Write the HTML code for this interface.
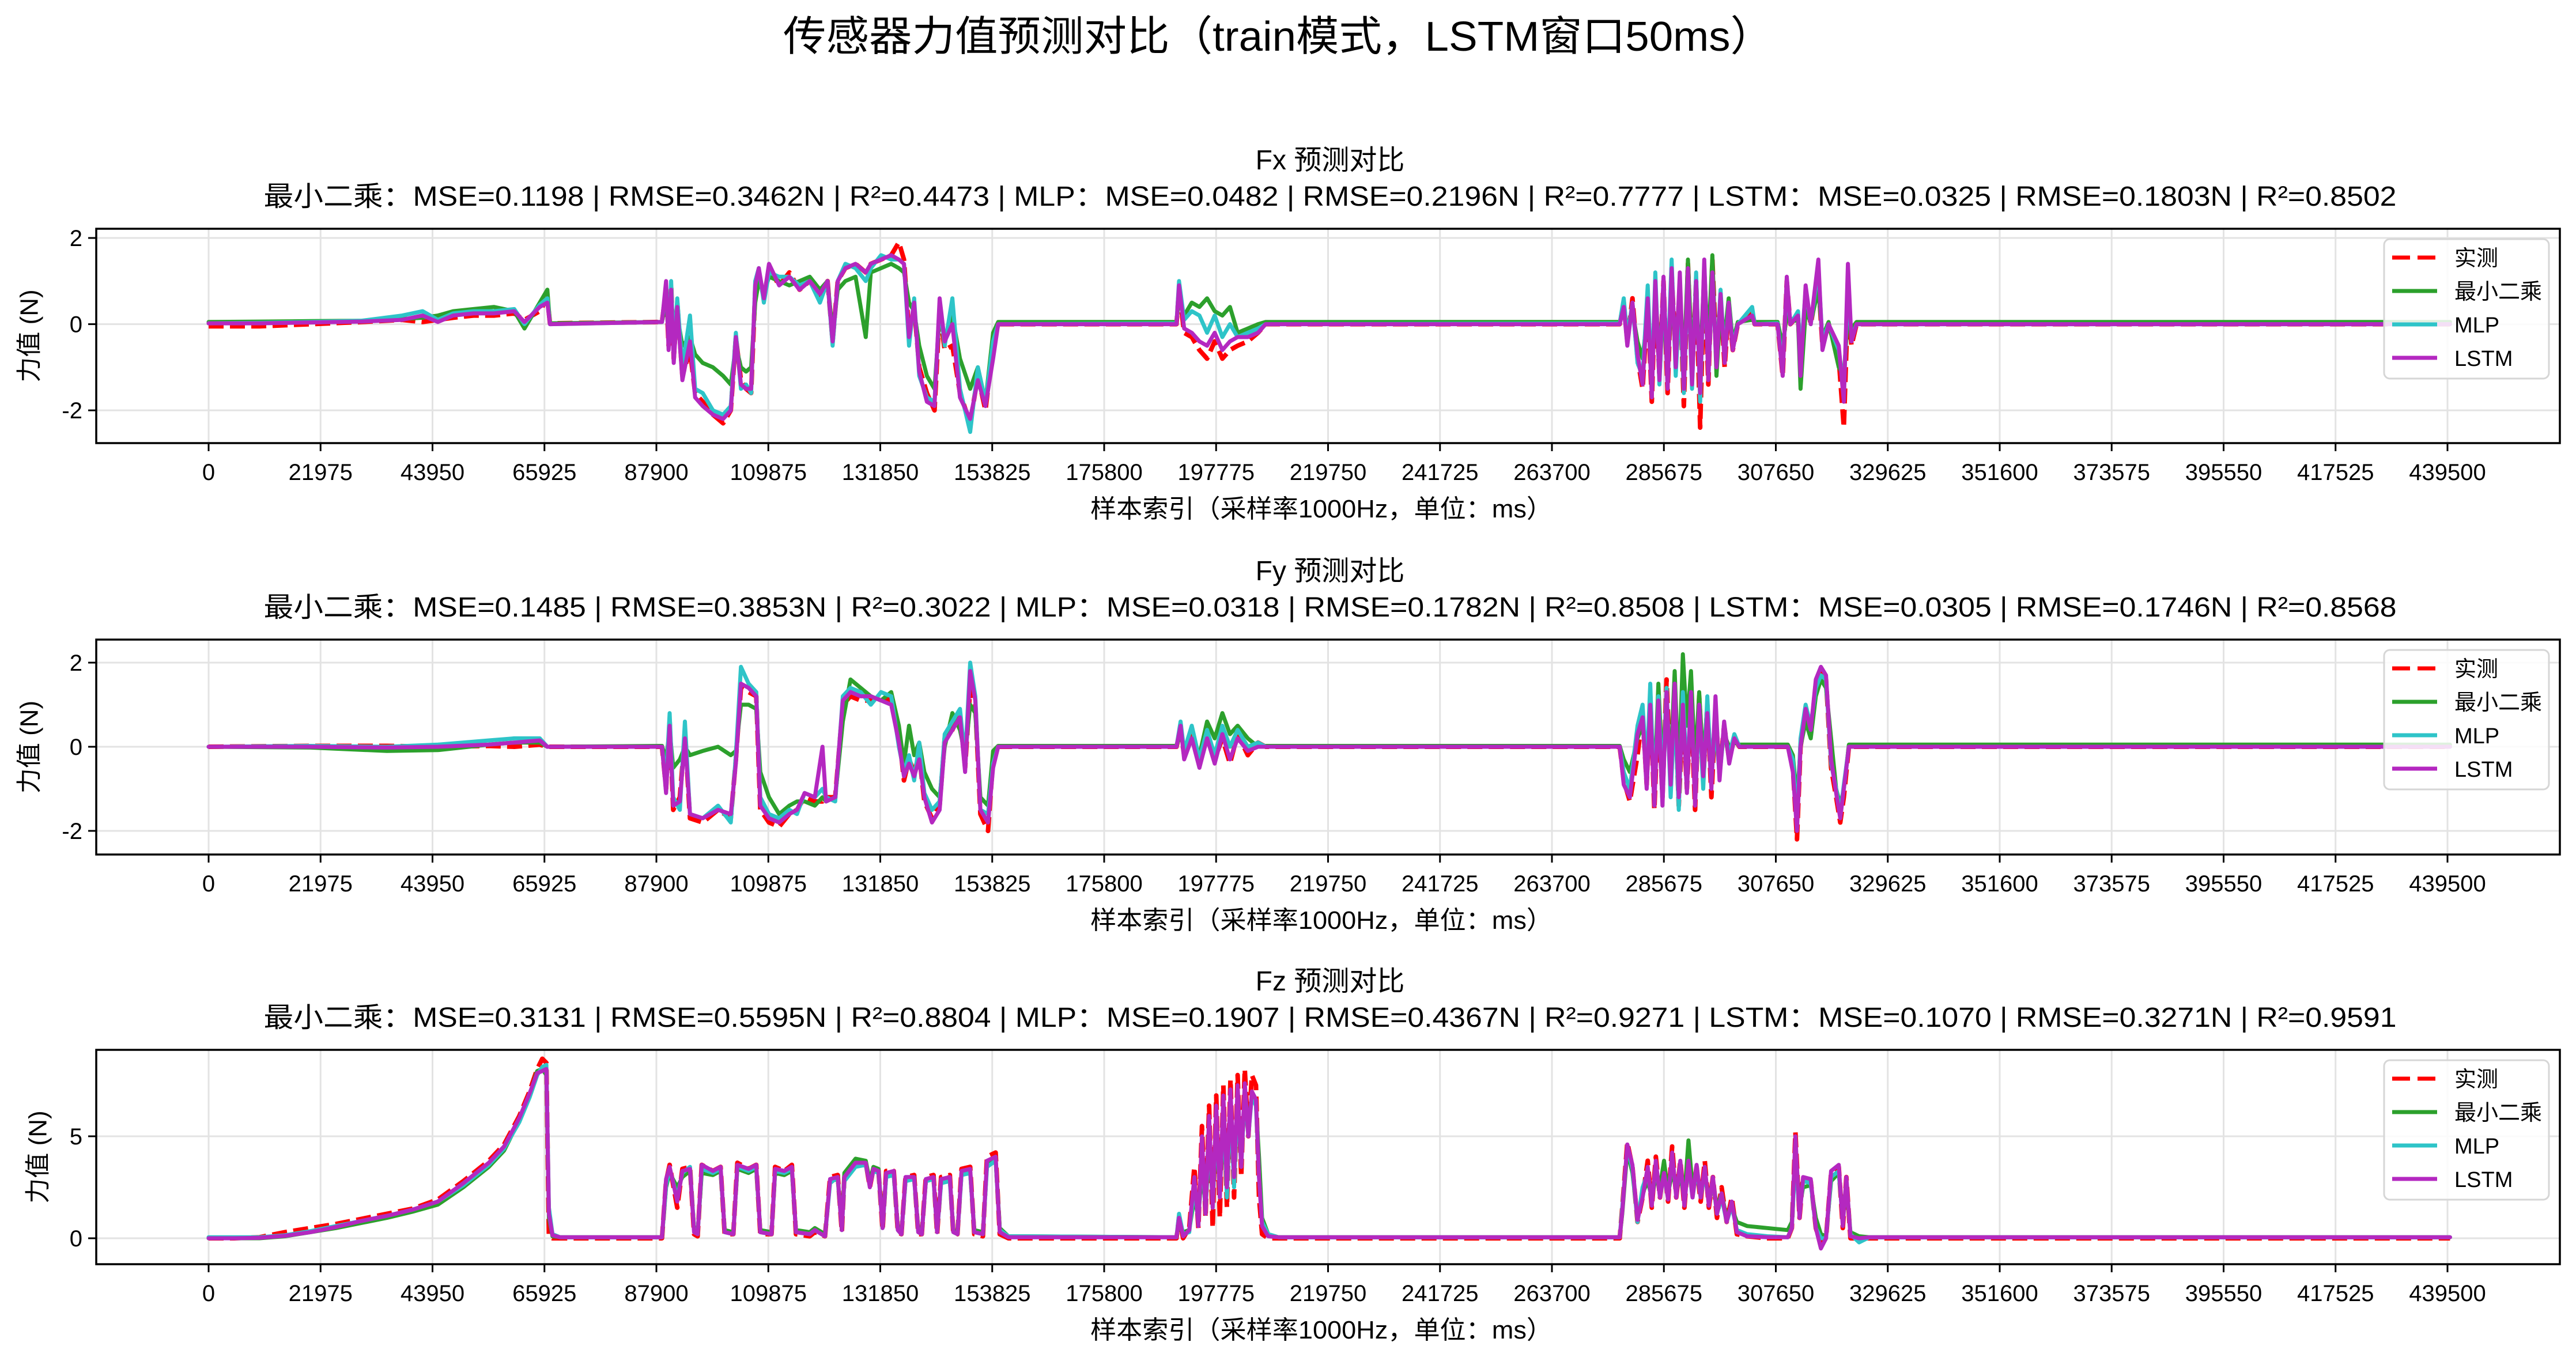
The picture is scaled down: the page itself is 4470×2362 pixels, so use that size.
<!DOCTYPE html>
<html><head><meta charset="utf-8">
<style>
html,body{margin:0;padding:0;background:#fff;}
svg{display:block;}
text{font-family:"Liberation Sans","Noto Sans CJK SC",sans-serif;fill:#000;}
</style></head>
<body>
<svg id="chart" xmlns="http://www.w3.org/2000/svg" width="4470" height="2362" viewBox="0 0 4470 2362">
<rect x="0" y="0" width="4470" height="2362" fill="#fff"/>
<text x="2218" y="88" font-size="72" text-anchor="middle" textLength="1718" lengthAdjust="spacingAndGlyphs">传感器力值预测对比（train模式，LSTM窗口50ms）</text>
</svg>
<script>
// ---------- x tick labels ----------
const xTickValues = [0,21975,43950,65925,87900,109875,131850,153825,175800,197775,219750,241725,263700,285675,307650,329625,351600,373575,395550,417525,439500];
const seriesNames = ["实测","最小二乘","MLP","LSTM"];
const plotNames = ["Fx","Fy","Fz"];
const titleLines = [
 "最小二乘：MSE=0.1198 | RMSE=0.3462N | R²=0.4473 | MLP：MSE=0.0482 | RMSE=0.2196N | R²=0.7777 | LSTM：MSE=0.0325 | RMSE=0.1803N | R²=0.8502",
 "最小二乘：MSE=0.1485 | RMSE=0.3853N | R²=0.3022 | MLP：MSE=0.0318 | RMSE=0.1782N | R²=0.8508 | LSTM：MSE=0.0305 | RMSE=0.1746N | R²=0.8568",
 "最小二乘：MSE=0.3131 | RMSE=0.5595N | R²=0.8804 | MLP：MSE=0.1907 | RMSE=0.4367N | R²=0.9271 | LSTM：MSE=0.1070 | RMSE=0.3271N | R²=0.9591"
];
const yTicksFx = [-2,0,2];
const yTicksFy = [-2,0,2];
const yTicksFz = [0,5];

// ---------- Fx data (sample index in thousands) ----------
const fxX = [0,10,20,30,38,42,45,48,52,56,60,62,65,66.5,67,89,
 89.8,90.3,90.8,91.3,92,93,94.5,95.5,97,99,101,102.5,103.5,104.5,105.5,106.5,107.3,108,109,110,112,114,116,118,120,121.5,122.5,123.5,125,127,129,130,132,134,135.5,136.5,137.5,138.5,139.5,141,142.5,143.5,144.5,146,147.5,149.5,151,152.5,154,155,
 190,190.5,191.5,193,194.5,196,197.5,199,200.5,202,204,206,207.5,
 277,277.8,278.5,279.5,280.5,281.5,282.5,283.3,284,284.8,285.6,286.4,287.2,288,288.8,289.6,290.4,291.2,292,292.8,293.6,294.4,295.2,296,296.8,297.6,298.4,299.2,300.2,
 303,303.5,308,309,309.8,310.5,312,312.5,313.5,314.5,316,316.8,318,320,321,321.8,322.5,323.5,440];
const fxActual = [-0.05,-0.05,0,0.05,0.1,0.05,0.1,0.15,0.2,0.2,0.25,0.1,0.3,0.6,0.02,0.05,
 0.8,-0.5,0.9,-0.8,0.5,-1.2,-0.6,-1.6,-1.8,-2.1,-2.3,-2.0,-0.3,-1.3,-1.5,-1.6,0.8,1.2,0.6,1.3,0.9,1.2,0.8,1.0,0.6,1.0,-0.4,1.0,1.3,1.4,1.2,1.4,1.5,1.6,1.9,1.5,-0.2,0.4,-1.0,-1.6,-2.0,0.3,-0.6,-0.5,-1.6,-2.3,-1.2,-2.0,-0.5,0,
 0,0.8,-0.2,-0.3,-0.6,-0.8,-0.4,-0.8,-0.6,-0.5,-0.4,-0.2,0,
 0,0.5,-0.4,0.6,-0.8,-1.5,0.5,-1.8,0.8,-1.2,1.0,-1.6,1.2,-0.8,0.9,-1.9,1.4,-1.2,1.0,-2.4,1.2,-1.4,1.5,-0.8,0.6,-1.0,0.4,-0.6,0,
 0.3,0,0,-1.2,1.0,0,0.2,-1.0,0.6,0,1.0,-0.5,0,-0.8,-2.4,0.5,-0.5,0,0];
const fxLS = [0.05,0.06,0.07,0.08,0.12,0.15,0.2,0.3,0.35,0.4,0.3,-0.1,0.5,0.8,0.02,0.05,
 0.6,-0.3,0.5,-0.4,0.2,-0.5,-0.3,-0.7,-0.9,-1.0,-1.2,-1.4,-0.5,-1.0,-1.1,-1.0,0.5,1.0,0.7,1.1,1.0,0.9,1.0,1.1,0.8,1.0,-0.2,0.8,1.0,1.1,-0.3,1.2,1.3,1.4,1.3,1.2,0.5,0.3,-0.5,-1.2,-1.5,0.2,-0.3,0.2,-0.8,-1.5,-1.0,-1.8,-0.2,0.05,
 0.05,0.6,0.2,0.5,0.4,0.6,0.3,0.2,0.4,-0.2,-0.1,0,0.05,
 0.05,0.4,-0.2,0.3,-0.4,-0.8,0.3,-1.0,0.6,-0.6,0.4,-1.2,0.8,-0.5,0.5,-1.0,1.5,-0.8,0.6,-0.9,1.2,-0.5,1.6,-1.2,0.4,-0.3,0.6,-0.4,0.05,
 0.1,0.05,0.05,-0.5,0.2,0.05,0.1,-1.5,0.3,0.05,0.8,-0.3,0.05,-1.0,-1.2,0.2,-0.1,0.05,0.05];
const fxMLP = [0.02,0.03,0.05,0.08,0.2,0.3,0.1,0.25,0.3,0.3,0.35,0,0.45,0.6,0,0.05,
 0.9,-0.4,1.0,-0.7,0.6,-1.0,0.2,-1.5,-1.6,-2.0,-2.1,-1.9,-0.2,-1.5,-1.4,-1.6,1.0,1.3,0.5,1.2,1.1,1.1,0.9,1.0,0.5,1.0,-0.5,1.0,1.4,1.3,1.0,1.3,1.6,1.5,1.5,1.4,-0.5,0.6,-1.2,-1.7,-1.8,0.5,-0.5,0.6,-1.5,-2.5,-1.0,-1.8,-0.4,0,
 0.02,1.0,0.1,0.3,0.2,-0.2,0.2,-0.3,0,-0.3,-0.2,-0.1,0,
 0.02,0.6,-0.3,0.5,-0.9,-1.2,0.9,-1.5,1.2,-1.4,0.8,-1.0,1.5,-1.2,0.7,-1.6,1.2,-1.5,1.2,-1.8,1.4,-1.2,1.0,-0.9,0.8,-0.8,0.5,-0.5,0,
 0.4,0,0.02,-1.0,0.9,0,0.3,-0.8,0.8,0,1.3,-0.4,0,-0.6,-1.5,0.8,-0.3,0,0];
const fxLSTM = [0.02,0.02,0.04,0.06,0.1,0.2,0.05,0.2,0.25,0.25,0.3,0.05,0.4,0.5,0,0.05,
 1.0,-0.6,0.8,-0.9,0.4,-1.3,-0.4,-1.7,-1.9,-2.1,-2.2,-2.0,-0.3,-1.4,-1.5,-1.5,0.9,1.3,0.6,1.4,0.9,1.1,0.8,1.0,0.7,1.0,-0.4,1.0,1.3,1.4,1.2,1.4,1.5,1.6,1.5,1.4,-0.3,0.5,-1.1,-1.8,-1.9,0.6,-0.4,0,-1.7,-2.2,-1.3,-1.9,-0.8,0,
 0,0.9,-0.1,-0.2,-0.4,-0.5,-0.2,-0.6,-0.4,-0.3,-0.3,-0.2,0,
 0,0.4,-0.5,0.5,-0.7,-1.4,0.6,-1.7,1.0,-1.3,1.1,-1.5,1.3,-1.0,1.2,-1.5,1.3,-1.4,1.0,-1.6,1.5,-1.3,1.2,-1.0,0.7,-0.9,0.5,-0.6,0,
 0.2,0,0,-1.2,1.1,0,0.2,-1.2,0.9,0,1.5,-0.6,0,-0.5,-1.8,1.4,-0.4,0,0];

// ---------- Fy data ----------
const fyX = [0,20,35,45,55,60,65,66.5,89,
 89.8,90.5,91.2,92.5,93.5,94.5,97,100,102.5,103.5,104.5,106,107.5,108.3,110,112,114,115.5,117,119,120.5,121.2,123,124.5,126,128,130,132,134,135.5,136.5,137.5,138.5,139.5,140.5,142,143.5,144.5,146,147.5,148.5,149.5,150.5,151.5,153,154,155,
 190,190.8,191.5,193,194.5,196,197.5,199,200.5,202,204,206,207.5,
 277,277.8,279,280.5,281.5,282.3,283,283.8,284.6,285.4,286.2,287,287.8,288.6,289.4,290.2,291,291.8,292.6,293.4,294.2,295,295.8,296.6,297.5,298.5,299.5,300.5,
 310,311,311.8,312.5,313.5,314.5,315.5,316.5,317.5,318.5,319.5,320.3,321,322,440];
const fyActual = [0,0.02,0.02,0,0.02,0,0.05,0,0,
 -1.0,0.6,-1.5,-1.2,0.3,-1.7,-1.8,-1.5,-1.7,-0.3,1.4,1.3,1.2,-1.5,-1.8,-1.9,-1.6,-1.5,-1.2,-1.3,-1.3,-1.2,-1.2,1.0,1.2,1.1,1.1,1.2,1.1,0.3,-0.8,-0.3,-0.6,-0.2,-1.3,-1.7,-1.4,0.2,0.4,0.8,-0.5,1.4,1.0,-1.6,-2.0,-0.3,0,
 0,0.4,-0.2,0.3,-0.4,0.3,-0.3,0.2,-0.4,0.3,-0.2,0.1,0,
 0,-0.8,-1.3,-0.2,0.8,-0.9,1.2,-1.5,1.0,-1.2,1.6,-0.8,1.2,-1.4,0.8,-1.0,1.0,-1.5,1.2,-0.8,1.0,-1.2,0.8,-0.6,0.5,-0.3,0.2,0,
 0,-0.5,-2.2,0,0.8,0.3,1.5,1.8,1.6,-0.5,-1.2,-1.8,-1.2,0,0];
const fyLS = [0,-0.02,-0.1,-0.08,0.05,0.1,0.1,0,0.02,
 -0.3,0.4,-0.5,-0.3,0,-0.2,-0.1,0,-0.2,-0.1,1.0,1.0,0.9,-0.6,-1.2,-1.6,-1.4,-1.3,-1.3,-1.4,-1.2,-1.3,-1.2,0.6,1.6,1.4,1.2,1.1,1.3,0.5,-0.4,0.5,-0.2,0.1,-0.6,-1.0,-1.2,0,0.8,0.4,-0.2,1.0,0.8,-1.2,-1.4,-0.1,0.02,
 0.02,0.3,0,0.2,-0.2,0.6,0.2,0.8,0.3,0.5,0.2,0,0.02,
 0.02,-0.3,-0.6,0.2,0.5,-0.5,0.9,-1.0,1.5,-0.6,0.8,-0.4,1.8,-0.8,2.2,0.5,1.8,-0.5,1.3,-0.4,1.0,-0.6,0.5,-0.3,0.3,0,0.1,0.05,
 0.05,-0.2,-1.3,0,0.6,0.2,1.2,1.6,1.4,0.2,-1.0,-1.4,-1.0,0.05,0.05];
const fyMLP = [0,0.02,0,0.05,0.15,0.2,0.2,0,0,
 -0.8,0.8,-1.2,-1.5,0.6,-1.6,-1.7,-1.4,-1.8,-0.2,1.9,1.5,1.3,-1.2,-1.6,-1.7,-1.5,-1.6,-1.1,-1.2,-1.0,-1.2,-1.3,1.2,1.4,1.3,1.0,1.3,1.2,0,-0.6,-0.2,-0.8,0.1,-1.1,-1.5,-1.3,0.3,0.6,0.9,-0.3,2.0,1.2,-1.5,-1.6,-0.4,0,
 0,0.6,-0.1,0.5,-0.3,0.4,-0.2,0.5,0,0.4,0,0.1,0,
 0,-0.6,-1.0,0.5,1.0,-0.6,1.5,-1.3,1.2,-1.0,1.4,-1.2,1.0,-1.5,1.3,-0.8,1.2,-1.3,0.9,-1.0,1.2,-0.8,0.6,-0.7,0.4,-0.2,0.3,0,
 0,-0.3,-1.8,0.2,1.0,0.5,1.4,1.7,1.6,-0.4,-1.0,-1.6,-0.9,0,0];
const fyLSTM = [0,0,-0.02,0,0.05,0.1,0.15,0,0,
 -1.1,0.5,-1.4,-1.3,0.2,-1.6,-1.7,-1.5,-1.6,-0.4,1.5,1.4,1.2,-1.4,-1.7,-1.8,-1.6,-1.5,-1.1,-1.2,0,-1.3,-1.2,1.1,1.3,1.2,1.2,1.1,1.0,0.1,-0.7,-0.4,-0.7,-0.3,-1.2,-1.8,-1.5,0.1,0.4,0.7,-0.6,1.8,1.1,-1.5,-1.8,-0.5,0,
 0,0.5,-0.3,0.2,-0.5,0.2,-0.4,0.3,-0.3,0.2,-0.1,0,0,
 0,-0.9,-1.2,0.3,0.7,-1.0,1.0,-1.4,1.1,-1.4,1.3,-0.9,1.5,-1.2,1.0,-1.1,1.3,-1.4,1.0,-0.7,0.8,-1.0,1.2,-0.8,0.6,-0.4,0.2,0,
 0,-0.6,-2.0,0,0.9,0.4,1.6,1.9,1.7,-0.3,-1.1,-1.7,-1.0,0,0];

// ---------- Fz data ----------
const fzX = [0,5,10,15,20,25,30,35,40,45,50,55,58,61,63,64.5,65.5,66.3,66.8,67.5,69,89,
 89.8,90.5,92,93,94.5,95.3,96,96.8,99,100.5,101.3,103,103.8,106,107.5,108.3,110.5,111.2,113,114.5,115.3,118,119,121,122,123.5,124.3,124.8,127,129,129.8,130.5,131.5,132.3,133,134.5,135.3,136,136.8,138.5,139.3,140,140.8,142.3,143,143.8,145.5,146.2,147,147.8,149.5,150.3,152,152.8,154.5,155.3,157,
 190,190.5,191.3,192.5,193.5,194.3,195,195.7,196.4,197.1,197.8,198.5,199.2,199.9,200.6,201.3,202,202.7,203.4,204.1,204.8,205.6,206.2,206.8,208,210,
 277,277.5,278.5,279.5,280.5,281.5,282.5,283.3,284.1,284.9,285.7,286.5,287.3,288.1,288.9,289.7,290.5,291.3,292.1,292.9,293.7,294.5,295.3,296.1,297,298,299,300,302,306,310,
 310.8,311.5,312.3,313,314.5,315.5,316.5,317.5,318.5,320,320.8,321.5,322.3,324,326,440];
const fzActual = [0,0,0.05,0.3,0.5,0.7,0.95,1.2,1.45,1.9,2.8,3.8,4.6,6.0,7.2,8.3,8.8,8.6,0.1,0,0,0,
 2.8,3.6,1.5,3.4,3.5,0.2,0.1,3.6,3.3,3.5,0.2,0.2,3.7,3.4,3.6,0.2,0.2,3.5,3.3,3.6,0.2,0.1,0.3,0.1,3.0,3.1,0.3,3.0,3.6,3.7,2.5,3.4,3.3,0.4,3.3,3.3,0.3,0.2,3.0,3.1,0.2,0.2,3.0,3.1,0.2,3.0,3.1,0.2,0.2,3.4,3.5,0.2,0.1,4.0,4.2,0.2,0,
 0,1.0,0,0.5,3.5,0.5,5.5,1.0,6.5,0.5,7.0,1.0,7.5,1.5,7.8,2.0,8.0,3.0,8.3,5.0,8.0,7.5,2.0,0.2,0,0,
 0,1.5,4.7,3.5,0.8,2.0,3.8,1.5,4.0,2.0,3.5,1.8,4.5,2.0,3.8,1.5,4.0,2.2,3.5,1.8,3.8,1.5,3.0,1.0,2.5,0.8,2.0,0.2,0.1,0,0,
 0.5,5.2,1.0,3.0,2.8,0.5,-0.3,0,3.2,3.5,0.5,3.0,0,0,0,0];
const fzLS = [0,0,0,0.1,0.3,0.5,0.75,1.0,1.3,1.65,2.5,3.5,4.3,5.8,7.0,8.2,8.3,8.0,1.0,0.1,0.05,0.05,
 2.5,3.2,2.5,3.0,3.3,0.5,0.3,3.2,3.1,3.3,0.4,0.3,3.4,3.2,3.4,0.4,0.3,3.2,3.1,3.3,0.4,0.3,0.5,0.2,2.8,2.9,0.5,3.2,3.9,3.8,2.8,3.5,3.4,0.6,3.1,3.2,0.5,0.3,2.9,3.0,0.4,0.3,2.8,2.9,0.4,2.8,2.9,0.4,0.3,3.2,3.3,0.4,0.3,3.6,3.9,0.5,0.1,
 0.05,0.8,0.3,0.4,2.0,1.0,3.5,1.5,4.5,2.0,5.0,2.5,5.5,3.0,6.0,3.5,6.5,4.0,6.8,5.5,7.0,6.5,4.0,1.0,0.2,0.05,
 0.05,1.2,4.3,3.2,1.0,2.2,2.8,2.0,3.0,2.5,3.8,2.2,3.2,2.5,3.0,2.0,4.8,2.5,3.2,2.2,3.0,2.0,2.8,1.5,2.2,1.0,1.5,0.8,0.6,0.5,0.4,
 0.8,4.5,1.5,2.5,2.6,1.0,0.2,0.1,2.8,3.2,1.0,2.6,0.3,0.1,0.05,0.05];
const fzMLP = [0.05,0.05,0.05,0.15,0.35,0.6,0.85,1.1,1.4,1.8,2.6,3.6,4.4,5.7,6.9,8.0,8.4,8.5,1.5,0.2,0.05,0.05,
 2.6,3.4,2.0,3.2,3.5,0.4,0.2,3.4,3.2,3.4,0.3,0.2,3.5,3.3,3.5,0.3,0.2,3.3,3.2,3.4,0.3,0.2,0.4,0.1,2.7,3.0,0.4,2.8,3.5,3.6,2.6,3.3,3.2,0.5,3.0,3.1,0.4,0.2,2.8,2.9,0.3,0.2,2.8,2.9,0.3,2.7,2.8,0.3,0.2,3.1,3.2,0.3,0.2,3.5,3.8,0.4,0.1,
 0.05,1.2,0.2,0.3,2.5,0.8,4.5,1.2,5.5,1.5,6.0,2.0,6.5,2.0,6.8,2.5,7.0,3.5,7.2,5.0,7.0,6.5,3.0,0.8,0.2,0.05,
 0.05,1.5,4.5,3.4,0.8,2.5,3.2,1.8,3.5,2.2,3.0,2.0,4.0,2.2,3.5,1.8,3.6,2.0,3.4,2.0,3.2,1.8,2.8,1.2,2.0,0.8,1.6,0.4,0.2,0.1,0.05,
 0.5,4.0,1.2,2.8,2.7,0.5,0,0,3.0,3.3,0.8,2.8,0.2,-0.2,0.05,0.05];
const fzLSTM = [0,0,0.02,0.12,0.3,0.55,0.85,1.1,1.4,1.8,2.7,3.7,4.5,5.9,7.1,8.1,8.2,8.3,1.2,0.15,0.05,0.05,
 2.9,3.5,1.8,3.3,3.4,0.3,0.2,3.6,3.3,3.5,0.3,0.2,3.6,3.4,3.6,0.3,0.2,3.4,3.3,3.5,0.3,0.2,0.4,0.1,2.9,3.0,0.4,3.0,3.7,3.7,2.5,3.4,3.3,0.5,3.2,3.3,0.4,0.2,3.0,3.0,0.3,0.2,2.9,3.0,0.3,2.9,3.0,0.3,0.2,3.3,3.4,0.3,0.2,3.8,4.0,0.3,0.05,
 0.05,1.0,0.1,0.4,3.0,0.6,5.0,1.2,6.0,1.5,6.5,2.0,7.0,2.5,7.3,3.0,7.5,3.5,7.6,5.0,7.2,6.8,3.0,0.6,0.1,0.05,
 0.05,1.3,4.6,3.6,0.9,2.0,3.5,1.6,3.8,2.0,3.2,1.9,4.2,2.0,3.8,1.6,3.8,2.0,3.6,2.0,3.5,1.6,3.0,1.2,2.2,0.8,1.8,0.3,0.1,0.05,0.05,
 0.5,5.0,1.0,3.0,2.9,0.5,-0.5,0,3.3,3.6,0.6,3.0,0.1,0,0.05,0.05];

// ---------- layout ----------
const NS = "http://www.w3.org/2000/svg";
const svg = document.getElementById("chart");
const AX_L = 167, AX_R = 4442;
const X0PX = 362, XENDPX = 4247, XMAX = 439500;
const colors = ["#ff0000","#2ca02c","#2ec4c8","#b428c0"];
const widths = [8,7,7,7];
function mk(tag, attrs, parent){
  const e = document.createElementNS(NS, tag);
  for (const k in attrs) e.setAttribute(k, attrs[k]);
  (parent||svg).appendChild(e);
  return e;
}
function xScale(idx){ return X0PX + idx/XMAX*(XENDPX-X0PX); }

const panels = [
  {name:"fx", top:397, bottom:769, ymin:-2.76, ymax:2.214, ticks:yTicksFx, xs:fxX, data:[fxActual,fxLS,fxMLP,fxLSTM], ylabX:51},
  {name:"fy", top:1110, bottom:1483, ymin:-2.562, ymax:2.548, ticks:yTicksFy, xs:fyX, data:[fyActual,fyLS,fyMLP,fyLSTM], ylabX:51},
  {name:"fz", top:1822, bottom:2194, ymin:-1.271, ymax:9.237, ticks:yTicksFz, xs:fzX, data:[fzActual,fzLS,fzMLP,fzLSTM], ylabX:66}
];

panels.forEach((p, pi) => {
  const off = p.top - 397;
  const yScale = v => p.bottom - (v - p.ymin)/(p.ymax - p.ymin)*(p.bottom - p.top);
  const g = mk("g", {});
  
  

  const t1 = mk("text", {x:2308, y:294+off, "font-size":48, "text-anchor":"middle"}, g);
  t1.textContent = plotNames[pi] + " 预测对比";
  
  
  const t2 = mk("text", {x:2308, y:357+off, "font-size":48, "text-anchor":"middle", textLength:3701, lengthAdjust:"spacingAndGlyphs"}, g);
  t2.textContent = titleLines[pi];
  
  

  xTickValues.forEach(v => {
    const x = xScale(v);
    const gl = mk("line", {x1:x, x2:x, y1:p.top, y2:p.bottom, stroke:"#e3e3e3", "stroke-width":3}, g);
    
    
  });
  p.ticks.forEach(v => {
    const y = yScale(v);
    const gl = mk("line", {x1:AX_L, x2:AX_R, y1:y, y2:y, stroke:"#e3e3e3", "stroke-width":3}, g);
    
    
  });

  const cp = mk("clipPath", {id:"clip"+pi}, g);
  mk("rect", {x:AX_L, y:p.top, width:AX_R-AX_L, height:p.bottom-p.top}, cp);

  const sg = mk("g", {"clip-path":"url(#clip"+pi+")"}, g);
  p.data.forEach((vals, si) => {
    let d = "";
    for (let i=0;i<p.xs.length;i++){
      d += (i?"L":"M") + xScale(p.xs[i]*1000).toFixed(1) + "," + yScale(vals[i]).toFixed(1);
    }
    const attrs = {d:d, fill:"none", stroke:colors[si], "stroke-width":widths[si], "stroke-linejoin":"round", "stroke-linecap": si===0?"butt":"round"};
    if (si===0) attrs["stroke-dasharray"] = "26,11";
    const path = mk("path", attrs, sg);
    
    
  });

  const fr = mk("rect", {x:AX_L, y:p.top, width:AX_R-AX_L, height:p.bottom-p.top, fill:"none", stroke:"#000", "stroke-width":3.5}, g);
  
  

  xTickValues.forEach(v => {
    const x = xScale(v);
    mk("line", {x1:x, x2:x, y1:p.bottom, y2:p.bottom+14, stroke:"#000", "stroke-width":3}, g);
    const tl = mk("text", {x:x, y:p.bottom+64, "font-size":40, "text-anchor":"middle"}, g);
    tl.textContent = String(v);
    
    
  });
  p.ticks.forEach(v => {
    const y = yScale(v);
    mk("line", {x1:AX_L-14, x2:AX_L, y1:y, y2:y, stroke:"#000", "stroke-width":3}, g);
    const tl = mk("text", {x:AX_L-24, y:y+14, "font-size":40, "text-anchor":"end"}, g);
    tl.textContent = String(v);
    
    
  });

  const xl = mk("text", {x:2293, y:p.bottom+129, "font-size":44, "text-anchor":"middle", textLength:802, lengthAdjust:"spacingAndGlyphs"}, g);
  xl.textContent = "样本索引（采样率1000Hz，单位：ms）";
  
  
  const cy = (p.top+p.bottom)/2;
  const yl = mk("text", {x:p.ylabX, y:cy, "font-size":44, "text-anchor":"middle", transform:"rotate(-90 "+(p.ylabX)+" "+cy+")", "dominant-baseline":"central"}, g);
  yl.textContent = "力值 (N)";
  
  

  const lg = mk("g", {}, g);
  
  
  mk("rect", {x:4137, y:p.top+18, width:286, height:242, rx:10, ry:10, fill:"#fff", "fill-opacity":0.85, stroke:"#d6d6d6", "stroke-width":3}, lg);
  seriesNames.forEach((nm, si) => {
    const ry = p.top + 50 + si*58;
    const la = {x1:4151, x2:4229, y1:ry, y2:ry, stroke:colors[si], "stroke-width":7};
    if (si===0) la["stroke-dasharray"] = "31,13";
    const ln = mk("line", la, lg);
    
    
    const tx = mk("text", {x:4259, y:ry+14, "font-size":38}, lg);
    tx.textContent = nm;
    
    
  });
});
</script>
</body></html>
